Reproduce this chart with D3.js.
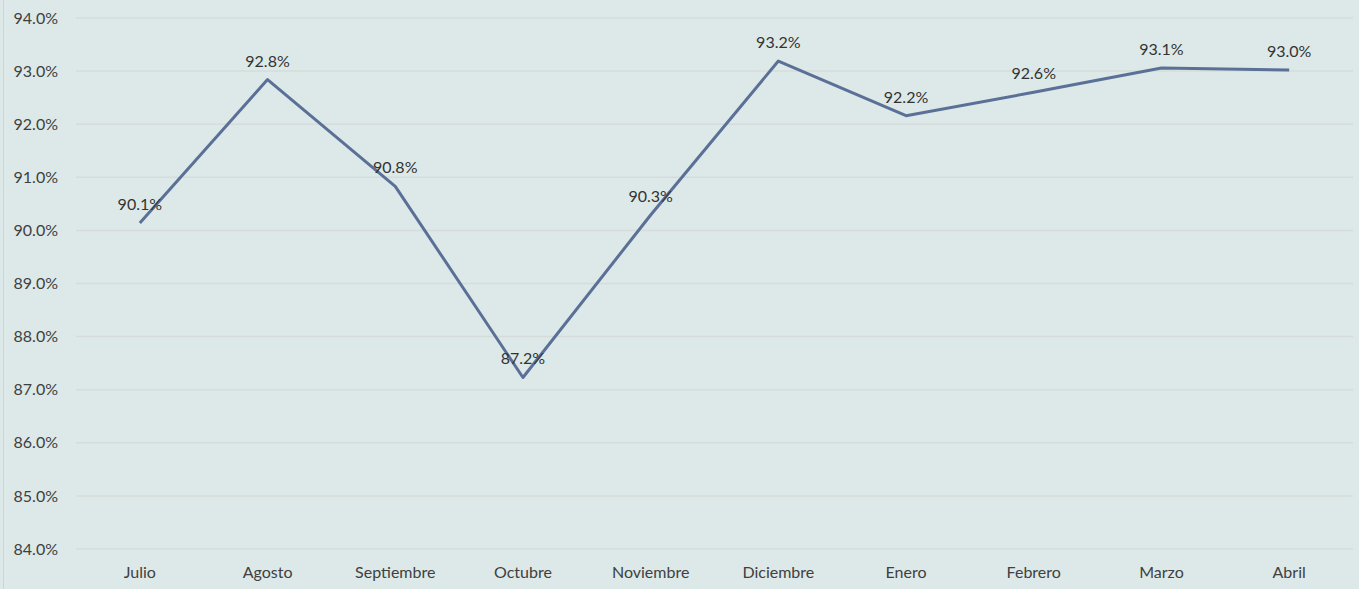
<meta charset="utf-8">
<style>
body { margin: 0; background: #dde9e8; }
svg { display: block; font-family: Lato, "Open Sans", sans-serif; }
.grid line { stroke: #d6dcdb; stroke-width: 1.5px; }
.line { fill: none; stroke: #5a7097; stroke-width: 3px; stroke-linejoin: round; }
.lbl { fill: #333; font-size: 16px; }
.axis text { fill: #404040; font-size: 16px; font-family: Lato, "Open Sans", sans-serif; }
</style>
<body>
<script src="https://d3js.org/d3.v7.js"></script>
<script>
var months = ["Julio", "Agosto", "Septiembre", "Octubre", "Noviembre", "Diciembre", "Enero", "Febrero", "Marzo", "Abril"];
var values = [90.14, 92.84, 90.83, 87.23, 90.29, 93.19, 92.16, 92.6, 93.06, 93.02];
var yTicks = [84, 85, 86, 87, 88, 89, 90, 91, 92, 93, 94];

var W = 1359, H = 589;
var margin = {top: 18, right: 6, bottom: 40, left: 76};
var bottomY = 549;

var svg = d3.select("body").append("svg")
    .attr("width", W)
    .attr("height", H);

svg.append("rect").attr("width", W).attr("height", H).attr("fill", "#dde9e8");
svg.append("line")
    .attr("x1", 3.5).attr("x2", 3.5).attr("y1", 0).attr("y2", H)
    .attr("stroke", "#c9d6d5").attr("stroke-width", 1);

var x = d3.scaleBand().domain(months).range([margin.left, W - margin.right]);
var y = d3.scaleLinear().domain([84, 94]).range([bottomY, margin.top]);

var g = svg.append("g").attr("class", "grid");
g.selectAll("line").data(yTicks).enter().append("line")
    .attr("x1", margin.left).attr("x2", W - margin.right)
    .attr("y1", function(d) { return y(d); })
    .attr("y2", function(d) { return y(d); });

var ya = svg.append("g").attr("class", "axis")
    .attr("transform", "translate(" + (margin.left - 18) + ",0)")
    .call(d3.axisLeft(y).tickValues(yTicks).tickSize(0).tickPadding(0)
      .tickFormat(function(d) { return d.toFixed(1) + "%"; }));
ya.select(".domain").remove();

var xa = svg.append("g").attr("class", "axis")
    .attr("transform", "translate(0," + bottomY + ")")
    .call(d3.axisBottom(x).tickSize(0).tickPadding(18));
xa.select(".domain").remove();

var line = d3.line()
    .x(function(d, i) { return x(months[i]) + x.bandwidth() / 2; })
    .y(function(d) { return y(d); });

svg.append("path").datum(values).attr("class", "line").attr("d", line);

svg.selectAll(".lbl").data(values).enter().append("text")
    .attr("class", "lbl")
    .attr("text-anchor", "middle")
    .attr("x", function(d, i) { return x(months[i]) + x.bandwidth() / 2; })
    .attr("y", function(d) { return y(d) - 13; })
    .text(function(d) { return d.toFixed(1) + "%"; });
</script>
</body>
